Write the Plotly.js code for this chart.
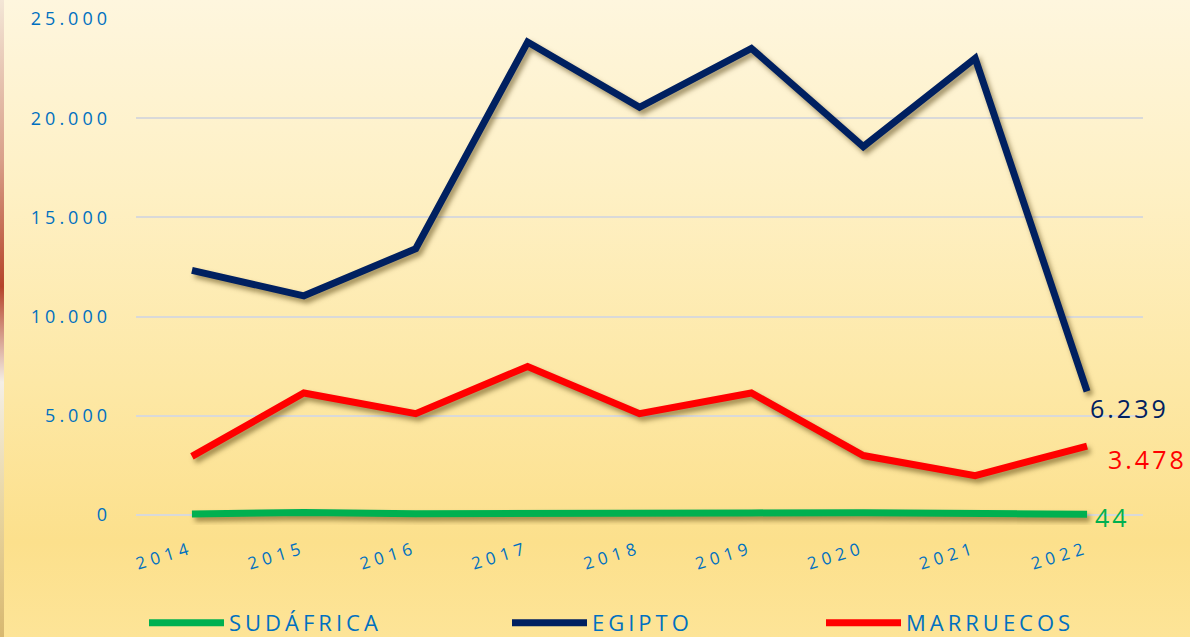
<!DOCTYPE html>
<html>
<head>
<meta charset="utf-8">
<script src="https://cdn.plot.ly/plotly-3.0.1.min.js"></script>
<style>
html, body { margin:0; padding:0; }
body {
  width:1190px; height:637px; overflow:hidden; position:relative;
  background: linear-gradient(180deg, #FEF6DE 0%, #FEF0C4 30%, #FDE8A6 60%, #FCE08C 85%, #FDE497 100%);
}
#strip { position:absolute; left:0; top:0; width:4px; height:637px;
  background: linear-gradient(180deg, #f3e6d6 0%, #d9a08a 25%, #b5442a 45%, #f4efe6 60%, #e8d5a0 80%, #d8b870 100%); }
#chart { position:absolute; left:0; top:0; width:1190px; height:637px; }
.scatterlayer path.js-line { filter: drop-shadow(3px 4px 2.5px rgba(70,50,0,0.5)); }
.ytick text { letter-spacing: 4px; }
.xtick text { letter-spacing: 5px; }
svg text.legendtext { letter-spacing: 4px !important; }
.infolayer g[class^="legend"], .infolayer g[class^="legend"] g { clip-path: none !important; }
.annotation-text { letter-spacing: 3px; }
</style>
</head>
<body>
<div id="strip"></div>
<div id="chart"></div>
<script>
const years = ['2014','2015','2016','2017','2018','2019','2020','2021','2022'];
const sudafrica = [60, 130, 70, 60, 70, 110, 120, 120, 44];
const egipto = [12330, 11050, 13420, 23840, 20550, 23520, 18570, 23020, 6239];
const marruecos = [2960, 6150, 5110, 7490, 5110, 6150, 3000, 1990, 3478];
const seriesNames = ['SUDÁFRICA', 'EGIPTO', 'MARRUECOS'];
const seriesColors = ['#00B050', '#002060', '#FF0000'];

const blue = '#0070C0';
const fontFam = '"Open Sans", "DejaVu Sans", sans-serif';
const allSeries = [sudafrica, egipto, marruecos];
const legends = ['legend', 'legend2', 'legend3'];

const traces = allSeries.map((vals, i) => ({
  type: 'scatter', mode: 'lines', x: years, y: vals, name: seriesNames[i],
  line: { color: seriesColors[i], width: 7 },
  legend: legends[i], hoverinfo: 'skip'
}));

function fmt(v) {
  return String(v).replace(/\B(?=(\d{3})+(?!\d))/g, '.');
}
const last = years.length - 1;
const labelCfg = [
  { xshift: 6, yshift: -3, size: 25 },
  { xshift: 1, yshift: -17, size: 25 },
  { xshift: 19, yshift: -13, size: 25 }
];
const annotations = allSeries.map((vals, i) => ({
  x: last, y: vals[last], xref: 'x', yref: 'y',
  text: fmt(vals[last]), showarrow: false, xanchor: 'left', yanchor: 'middle',
  xshift: labelCfg[i].xshift, yshift: labelCfg[i].yshift,
  font: { family: fontFam, size: labelCfg[i].size, color: seriesColors[i] }
}));

const legendBase = {
  orientation: 'h', yanchor: 'middle', xanchor: 'left', yref: 'container', xref: 'container',
  y: 0.022, bgcolor: 'rgba(0,0,0,0)', itemwidth: 75,
  font: { family: fontFam, size: 22, color: blue }
};
function lx(px) { return px / 1190; }

const layout = {
  width: 1190, height: 637,
  paper_bgcolor: 'rgba(0,0,0,0)', plot_bgcolor: 'rgba(0,0,0,0)',
  margin: { l: 136, r: 47, t: 19, b: 112 },
  separators: ',.',
  showlegend: true,
  legend: Object.assign({}, legendBase, { x: lx(144) }),
  legend2: Object.assign({}, legendBase, { x: lx(507) }),
  legend3: Object.assign({}, legendBase, { x: lx(821) }),
  xaxis: {
    type: 'category', range: [-0.5, 8.5], showgrid: false, zeroline: false, showline: false,
    ticks: '', tickangle: -17, ticklabelstandoff: 10,
    tickfont: { family: fontFam, size: 17, color: blue }
  },
  yaxis: {
    range: [-500, 25000], tickvals: [0, 5000, 10000, 15000, 20000, 25000],
    tickformat: ',d', showgrid: true, gridcolor: '#D9D9D9', gridwidth: 2,
    zeroline: false, showline: false, ticks: '', ticklabelstandoff: 24,
    tickfont: { family: fontFam, size: 18, color: blue }
  },
  annotations: annotations
};

function spaceLegends() {
  const groups = document.querySelectorAll('.infolayer g[class^="legend"]');
  groups.forEach(g => {
    g.querySelectorAll('text').forEach(t => { t.style.letterSpacing = '4px'; });
    g.querySelectorAll('[clip-path]').forEach(e => e.removeAttribute('clip-path'));
    if (g.hasAttribute('clip-path')) g.removeAttribute('clip-path');
  });
}
Plotly.newPlot('chart', traces, layout, { displayModeBar: false, staticPlot: true }).then(gd => {
  spaceLegends();
  gd.on('plotly_afterplot', spaceLegends);
});
</script>
</body>
</html>
